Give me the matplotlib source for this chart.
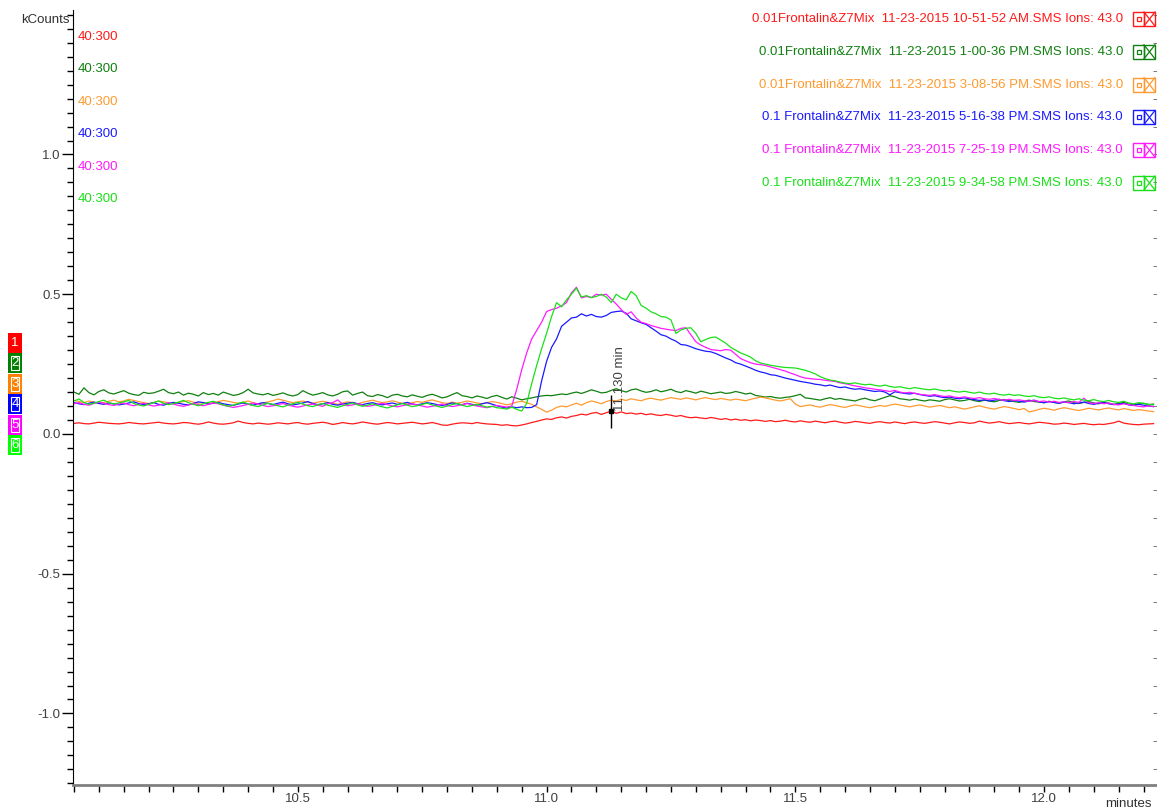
import matplotlib
matplotlib.use("Agg")
import matplotlib.pyplot as plt
from matplotlib.patches import Rectangle
from matplotlib.lines import Line2D
from matplotlib.ticker import MultipleLocator, FixedLocator, FormatStrFormatter
import numpy as np

plt.rcParams['font.family'] = ['Liberation Sans', 'DejaVu Sans']

# Ion 43.0 traces (kCounts), one scan every 0.01 min starting at 10.05 min
red = [
    .038, .040, .037, .036, .039, .042, .040, .038, .037, .036,
    .038, .041, .039, .037, .036, .038, .040, .042, .039, .037,
    .036, .038, .041, .040, .037, .035, .038, .043, .039, .036,
    .035, .037, .040, .046, .041, .038, .036, .039, .037, .035,
    .037, .040, .038, .036, .039, .041, .037, .035, .038, .040,
    .042, .039, .034, .037, .041, .038, .036, .039, .043, .040,
    .037, .035, .038, .041, .039, .036, .038, .040, .042, .039,
    .036, .038, .041, .037, .032, .031, .035, .038, .040, .039,
    .037, .041, .038, .036, .035, .034, .031, .033, .030, .029,
    .032, .036, .041, .045, .050, .054, .052, .058, .061, .057,
    .063, .066, .071, .068, .074, .077, .070, .076, .082, .074,
    .079, .073, .075, .071, .074, .069, .072, .068, .066, .070,
    .067, .063, .066, .061, .058, .060, .057, .055, .059, .056,
    .052, .055, .050, .053, .049, .051, .047, .050, .048, .045,
    .048, .044, .046, .049, .045, .043, .047, .044, .042, .046,
    .043, .040, .044, .046, .042, .039, .041, .045, .043, .040,
    .038, .042, .044, .041, .039, .043, .040, .037, .041, .043,
    .040, .038, .041, .044, .042, .039, .036, .040, .043, .041,
    .038, .040, .046, .042, .039, .041, .044, .040, .037, .039,
    .041, .038, .036, .039, .042, .040, .038, .035, .036, .039,
    .037, .034, .036, .038, .035, .033, .035, .034, .037, .040,
    .046, .039, .036, .034, .033, .035, .036, .037,
]
dark_green = [
    .150, .142, .165, .148, .140, .152, .158, .147, .143, .149,
    .155, .146, .141, .138, .149, .145, .147, .153, .160, .148,
    .144, .150, .139, .146, .142, .136, .148, .141, .145, .139,
    .150, .144, .138, .141, .148, .160, .147, .143, .140, .145,
    .138, .142, .147, .140, .136, .141, .155, .146, .139, .143,
    .148, .140, .136, .142, .151, .154, .139, .145, .150, .137,
    .134, .141, .137, .130, .139, .142, .136, .133, .140, .135,
    .131, .138, .142, .136, .129, .133, .141, .148, .137, .134,
    .129, .136, .132, .127, .134, .138, .131, .125, .133, .128,
    .122, .126, .129, .133, .136, .138, .137, .140, .143, .141,
    .146, .150, .145, .151, .158, .153, .147, .149, .156, .162,
    .155, .150, .158, .161, .154, .149, .152, .158, .151, .155,
    .160, .152, .148, .155, .151, .146, .153, .149, .144, .147,
    .150, .145, .147, .152, .148, .143, .146, .138, .135, .132,
    .134, .130, .128, .131, .133, .137, .142, .129, .127, .124,
    .121, .126, .130, .124, .127, .123, .121, .118, .124, .128,
    .122, .119, .125, .131, .137, .133, .126, .124, .121, .125,
    .121, .118, .122, .120, .117, .123, .126, .122, .118, .120,
    .124, .119, .116, .121, .118, .115, .120, .123, .119, .116,
    .113, .118, .121, .116, .114, .112, .117, .113, .110, .115,
    .118, .112, .109, .113, .116, .111, .108, .112, .110, .106,
    .109, .113, .107, .104, .108, .110, .105, .107,
]
orange = [
    .120, .116, .112, .118, .114, .110, .113, .117, .121, .115,
    .118, .124, .120, .116, .112, .109, .113, .118, .115, .111,
    .108, .112, .116, .119, .114, .110, .113, .109, .112, .116,
    .120, .117, .113, .110, .114, .118, .112, .108, .111, .115,
    .119, .125, .121, .116, .112, .115, .118, .113, .110, .114,
    .117, .113, .110, .106, .111, .115, .112, .108, .113, .117,
    .121, .116, .112, .115, .119, .114, .110, .107, .112, .116,
    .113, .118, .122, .117, .112, .109, .114, .110, .113, .118,
    .115, .111, .108, .112, .116, .113, .109, .104, .108, .114,
    .117, .112, .106, .097, .088, .078, .085, .095, .100, .097,
    .104, .110, .103, .112, .118, .114, .108, .116, .121, .118,
    .124, .120, .126, .122, .119, .125, .128, .124, .121, .126,
    .130, .127, .124, .129, .126, .122, .127, .130, .126, .123,
    .127, .124, .121, .125, .122, .119, .124, .128, .132, .129,
    .125, .121, .118, .122, .126, .107, .098, .101, .104, .099,
    .096, .101, .105, .102, .098, .095, .100, .104, .101, .097,
    .094, .098, .102, .099, .103, .107, .104, .100, .097, .101,
    .104, .100, .096, .099, .102, .098, .094, .097, .093, .089,
    .093, .097, .101, .096, .092, .089, .094, .098, .095, .091,
    .087, .091, .079, .083, .088, .092, .089, .085, .090, .094,
    .091, .087, .084, .088, .092, .089, .086, .090, .093, .089,
    .086, .091, .088, .084, .087, .085, .082, .080,
]
blue = [
    .112, .108, .105, .110, .114, .109, .106, .111, .108, .104,
    .107, .111, .115, .109, .105, .108, .112, .106, .103, .109,
    .113, .110, .106, .104, .109, .115, .112, .107, .110, .113,
    .108, .105, .102, .107, .111, .106, .103, .108, .112, .109,
    .105, .110, .114, .108, .104, .107, .111, .116, .109, .105,
    .108, .112, .106, .103, .107, .110, .113, .108, .105, .109,
    .112, .107, .104, .108, .111, .106, .109, .113, .107, .104,
    .108, .112, .109, .105, .102, .106, .111, .108, .104, .110,
    .106, .103, .108, .112, .107, .101, .096, .093, .097, .094,
    .097, .094, .095, .105, .190, .260, .310, .340, .385, .400,
    .415, .418, .430, .422, .428, .420, .418, .424, .435, .438,
    .440, .432, .412, .405, .398, .392, .380, .368, .355, .350,
    .340, .332, .320, .318, .312, .305, .300, .296, .294, .288,
    .280, .272, .265, .255, .250, .243, .236, .228, .222, .218,
    .212, .210, .205, .200, .196, .192, .188, .185, .182, .178,
    .176, .172, .175, .170, .166, .168, .163, .160, .162, .158,
    .155, .152, .154, .150, .140, .151, .148, .145, .143, .146,
    .141, .138, .135, .137, .133, .130, .132, .128, .126, .129,
    .126, .123, .120, .122, .118, .121, .124, .119, .116, .120,
    .117, .114, .118, .121, .115, .112, .116, .113, .110, .114,
    .112, .108, .111, .114, .109, .106, .110, .113, .108, .105,
    .107, .110, .104, .102, .106, .103, .100, .098,
]
magenta = [
    .108, .112, .106, .103, .109, .114, .110, .105, .102, .107,
    .111, .105, .101, .106, .110, .104, .100, .103, .108, .112,
    .107, .102, .099, .104, .109, .105, .101, .106, .111, .108,
    .103, .099, .095, .098, .102, .106, .111, .107, .102, .098,
    .101, .105, .109, .104, .099, .096, .100, .104, .107, .103,
    .099, .108, .112, .122, .106, .101, .104, .108, .103, .099,
    .102, .106, .110, .105, .100, .097, .101, .105, .108, .104,
    .100, .096, .099, .103, .107, .102, .098, .101, .105, .109,
    .104, .100, .097, .094, .098, .102, .099, .096, .100, .160,
    .230, .290, .340, .370, .400, .438, .445, .450, .458, .470,
    .505, .525, .487, .492, .488, .500, .497, .500, .482, .465,
    .445, .428, .437, .415, .400, .395, .388, .383, .378, .375,
    .372, .370, .378, .380, .355, .330, .318, .310, .302, .300,
    .298, .302, .300, .285, .270, .262, .255, .250, .248, .245,
    .240, .235, .230, .225, .218, .212, .205, .200, .198, .196,
    .195, .192, .190, .188, .183, .180, .176, .172, .169, .165,
    .163, .160, .158, .155, .152, .156, .150, .147, .149, .145,
    .142, .140, .138, .141, .137, .134, .136, .132, .130, .133,
    .129, .127, .130, .126, .124, .127, .123, .121, .124, .120,
    .122, .119, .117, .120, .116, .118, .114, .117, .113, .115,
    .112, .116, .113, .128, .112, .109, .112, .108, .111, .106,
    .104, .108, .105, .102, .099, .097, .101, .098,
]
lime = [
    .118, .125, .113, .106, .110, .116, .121, .112, .107, .111,
    .115, .120, .109, .104, .100, .106, .112, .118, .110, .105,
    .109, .114, .120, .112, .106, .101, .108, .113, .117, .110,
    .104, .099, .103, .109, .114, .108, .102, .098, .104, .110,
    .106, .101, .097, .103, .108, .113, .107, .101, .098, .104,
    .109, .103, .099, .095, .101, .106, .111, .104, .099, .103,
    .108, .102, .097, .093, .099, .104, .109, .103, .098, .101,
    .106, .110, .104, .099, .095, .100, .105, .109, .103, .098,
    .102, .106, .101, .096, .099, .094, .092, .089, .096, .088,
    .082, .110, .180, .245, .305, .360, .420, .470, .455, .480,
    .500, .522, .490, .495, .488, .492, .500, .490, .470, .500,
    .487, .480, .510, .495, .460, .450, .437, .430, .420, .418,
    .408, .360, .372, .378, .380, .360, .330, .338, .345, .347,
    .336, .325, .310, .300, .290, .283, .275, .262, .254, .250,
    .246, .243, .240, .238, .237, .236, .232, .228, .222, .215,
    .205, .198, .193, .190, .186, .182, .180, .183, .179, .176,
    .178, .174, .171, .175, .170, .167, .169, .165, .162, .166,
    .163, .160, .158, .161, .157, .154, .156, .152, .150, .153,
    .149, .146, .150, .145, .143, .146, .141, .139, .142, .138,
    .140, .136, .134, .137, .132, .130, .133, .128, .126, .129,
    .125, .122, .126, .121, .119, .123, .118, .116, .120, .115,
    .113, .117, .111, .108, .112, .109, .106, .104,
]

t_start = 10.05
t_step = 0.01
times = np.round(t_start + t_step * np.arange(len(red)), 2)

series = [red, dark_green, orange, blue, magenta, lime]
line_colors = ['#ff1a1a', '#108010', '#ff9a30', '#1a1aff', '#ff1aff', '#1ae01a']
badge_colors = ['#ff0000', '#008000', '#ff8000', '#0000ff', '#ff00ff', '#00ff00']
files = [
    '0.01Frontalin&Z7Mix  11-23-2015 10-51-52 AM.SMS Ions: 43.0',
    '0.01Frontalin&Z7Mix  11-23-2015 1-00-36 PM.SMS Ions: 43.0',
    '0.01Frontalin&Z7Mix  11-23-2015 3-08-56 PM.SMS Ions: 43.0',
    '0.1 Frontalin&Z7Mix  11-23-2015 5-16-38 PM.SMS Ions: 43.0',
    '0.1 Frontalin&Z7Mix  11-23-2015 7-25-19 PM.SMS Ions: 43.0',
    '0.1 Frontalin&Z7Mix  11-23-2015 9-34-58 PM.SMS Ions: 43.0',
]
scan_ranges = ['40:300'] * 6
y_labels = [-1.0, -0.5, 0.0, 0.5, 1.0]
x_labels = [10.5, 11.0, 11.5, 12.0]
marker_time = 11.13

W, H = 1157, 809
fig = plt.figure(figsize=(W / 100, H / 100), dpi=100)
ax = fig.add_axes([73 / W, 24 / H, (W - 73) / W, (785 - 10) / H])


def px(x, y):
    # pixel position (from top-left) -> figure fraction
    return x / W, 1 - y / H


for ys, c in zip(series, line_colors):
    ax.plot(times, ys, color=c, lw=0.9)

# retention time marker on trace 1
i_mark = int(np.argmin(np.abs(times - marker_time)))
ax.vlines(marker_time, 0.022, 0.14, color='black', lw=1)
ax.plot(marker_time, red[i_mark], 's', color='black', ms=3)
ax.annotate('%.3f min' % marker_time, (marker_time, red[i_mark]),
            xytext=(2, 0), textcoords='offset points', rotation=90,
            ha='left', va='bottom', fontsize=9.5, color='#404040')

ax.set_xlim(10.048, 12.227)
ax.set_ylim(-1.256, 1.517)
ax.xaxis.set_major_locator(FixedLocator(x_labels))
ax.xaxis.set_minor_locator(MultipleLocator(0.05))
ax.yaxis.set_major_locator(FixedLocator(y_labels))
ax.yaxis.set_minor_locator(MultipleLocator(0.05))
ax.xaxis.set_major_formatter(FormatStrFormatter('%.1f'))
ax.yaxis.set_major_formatter(FormatStrFormatter('%.1f'))
ax.tick_params(axis='y', which='major', length=8, width=1, colors='black',
               labelcolor='#404040', labelsize=9.5, pad=1)
ax.tick_params(axis='y', which='minor', length=4, width=1, colors='black')
ax.tick_params(axis='x', which='both', length=5, width=1, colors='black',
               labelcolor='#404040', labelsize=9.5, pad=1)
ax.spines['top'].set_visible(False)
ax.spines['right'].set_visible(False)
ax.spines['bottom'].set_color('#808080')
ax.spines['bottom'].set_linewidth(2)

right = ax.secondary_yaxis(1.0 - 4 / (W - 73))
right.yaxis.set_major_locator(FixedLocator([]))
right.yaxis.set_minor_locator(MultipleLocator(0.1))
right.tick_params(which='both', direction='out', length=3, labelright=False,
                  colors='#606060')
right.spines['right'].set_visible(False)

fig.text(*px(70, 20), 'kCounts', ha='right', va='center', fontsize=9.5,
         color='#303030')
fig.text(*px(1152, 804), 'minutes', ha='right', va='center', fontsize=9.5,
         color='#303030')

for k in range(6):
    c = line_colors[k]
    fig.text(*px(78, 37 + 32.4 * k), scan_ranges[k], ha='left', va='center',
             fontsize=9.5, color=c)
    yc = 19 + 32.8 * k
    fig.text(*px(1123, yc), files[k], ha='right', va='center', fontsize=9.5,
             color=c)
    # trace toggle boxes
    x0, y0 = px(1133, yc + 7)
    bw, bh = 11 / W, 14 / H
    fig.add_artist(Rectangle((x0, y0), bw, bh, fill=False, ec=c, lw=1,
                             transform=fig.transFigure))
    fig.add_artist(Rectangle((x0 + 3.5 / W, y0 + 5 / H), 4 / W, 4 / H,
                             fill=False, ec=c, lw=0.9,
                             transform=fig.transFigure))
    x1 = x0 + bw
    fig.add_artist(Rectangle((x1, y0), bw, bh, fill=False, ec=c, lw=1,
                             transform=fig.transFigure))
    fig.add_artist(Line2D([x1, x1 + bw], [y0, y0 + bh], color=c, lw=0.9,
                          transform=fig.transFigure))
    fig.add_artist(Line2D([x1, x1 + bw], [y0 + bh, y0], color=c, lw=0.9,
                          transform=fig.transFigure))

    # numbered trace badges on the left
    top = 333 + 20.4 * k
    bx, by = px(8, top + 20)
    fig.add_artist(Rectangle((bx, by), 14 / W, 20 / H, fc=badge_colors[k],
                             ec='none', transform=fig.transFigure))
    if k > 0:
        fig.add_artist(Rectangle((bx + 3 / W, by + 3 / H), 8 / W, 14 / H,
                                 fill=False, ec='white', lw=0.8,
                                 transform=fig.transFigure))
    fig.text(*px(15, top + 10), str(k + 1), ha='center', va='center',
             fontsize=9.5, color='white')

fig.savefig('out.png', dpi=100)
